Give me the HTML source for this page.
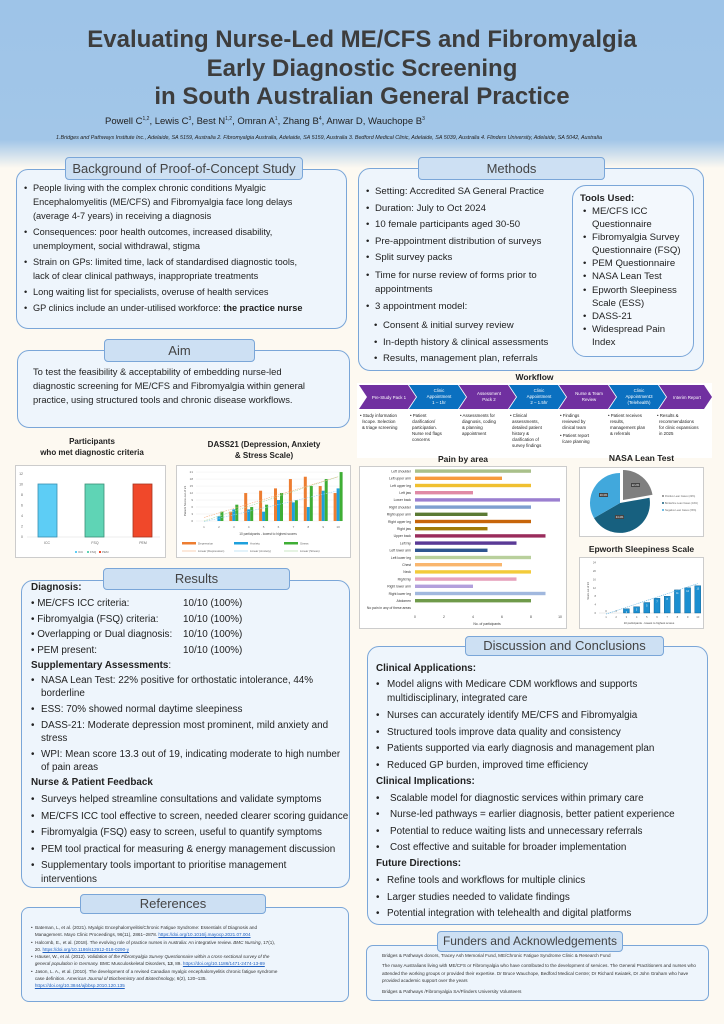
<!DOCTYPE html>
<html><head><meta charset="utf-8">
<style>
*{margin:0;padding:0;box-sizing:border-box}
body{width:724px;height:1024px;position:relative;overflow:hidden;font-family:"Liberation Sans",sans-serif;color:#222;
background:linear-gradient(to bottom,#9ec4e8 0px,#a2c6e8 140px,#fdf9f1 168px,#fdf9f1 100%);}
.a{position:absolute}
.box{position:absolute;border:1.5px solid #7aa6d8;border-radius:12px;background:#eef5fc}
.tab{position:absolute;border:1.5px solid #7aa6d8;border-radius:4px;background:#cde0f3;color:#444;text-align:center;font-size:13px;line-height:19px;white-space:nowrap}
.t{position:absolute;font-size:9.2px;line-height:14px;color:#222}
.b{position:absolute;font-size:9.9px;color:#222}
.ul li{list-style:none;position:relative;padding-left:9px}
.ul li:before{content:"•";position:absolute;left:0}
.sm{position:absolute;font-size:4.6px;line-height:7.3px;color:#333}
</style></head><body>

<div class="a" style="left:0;top:26px;width:724px;text-align:center;font-weight:bold;font-size:24px;line-height:28.5px;color:#3d3d3d">Evaluating Nurse-Led ME/CFS and Fibromyalgia<br>Early Diagnostic Screening<br>in South Australian General Practice</div>
<div class="a" style="left:105px;top:116px;font-size:9.5px;color:#222">Powell C<sup style="font-size:5px">1,2</sup>, Lewis C<sup style="font-size:5px">3</sup>, Best N<sup style="font-size:5px">1,2</sup>, Omran A<sup style="font-size:5px">1</sup>, Zhang B<sup style="font-size:5px">4</sup>, Anwar D, Wauchope B<sup style="font-size:5px">3</sup></div>
<div class="a" style="left:56px;top:135px;width:596px;font-size:5.4px;line-height:7.8px;font-style:italic;color:#222">1.Bridges and Pathways Institute Inc., Adelaide, SA 5159, Australia 2. Fibromyalgia Australia, Adelaide, SA 5159, Australia 3. Bedford Medical Clinic, Adelaide, SA 5039, Australia 4. Flinders University, Adelaide, SA 5042, Australia</div>

<!-- Background -->
<div class="box" style="left:16px;top:169px;width:331px;height:160px"></div>
<div class="tab" style="left:65px;top:157px;width:238px;height:23px;line-height:21px">Background of Proof-of-Concept Study</div>
<ul class="t ul" style="left:24px;top:181px;width:320px">
<li>People living with the complex chronic conditions Myalgic<br>Encephalomyelitis (ME/CFS) and Fibromyalgia face long delays<br>(average 4-7 years) in receiving a diagnosis</li>
<li style="margin-top:2px">Consequences: poor health outcomes, increased disability,<br>unemployment, social withdrawal, stigma</li>
<li style="margin-top:2px">Strain on GPs: limited time, lack of standardised diagnostic tools,<br>lack of clear clinical pathways, inappropriate treatments</li>
<li style="margin-top:2px">Long waiting list for specialists, overuse of health services</li>
<li style="margin-top:2px">GP clinics include an under-utilised workforce: <b>the practice nurse</b></li>
</ul>

<!-- Aim -->
<div class="box" style="left:17px;top:350px;width:333px;height:78px"></div>
<div class="tab" style="left:104px;top:339px;width:151px;height:23px;line-height:21px">Aim</div>
<div class="t" style="left:33px;top:365px;width:315px;line-height:14px;font-size:9.4px">To test the feasibility &amp; acceptability of embedding nurse-led<br>diagnostic screening for ME/CFS and Fibromyalgia within general<br>practice, using structured tools and chronic disease workflows.</div>

<!-- Methods -->
<div class="box" style="left:358px;top:168px;width:346px;height:203px"></div>
<div class="tab" style="left:418px;top:157px;width:187px;height:23px;line-height:21px">Methods</div>
<ul class="t ul" style="left:366px;top:184px;width:210px;line-height:16.5px;font-size:9.6px">
<li>Setting: Accredited SA General Practice</li>
<li>Duration: July to Oct 2024</li>
<li>10 female participants aged 30-50</li>
<li>Pre-appointment distribution of surveys</li>
<li>Split survey packs</li>
<li style="line-height:14px;padding-top:2px">Time for nurse review of forms prior to<br>appointments</li>
<li style="padding-top:2px">3 appointment model:</li>
<li style="margin-left:8px;padding-top:3px">Consent &amp; initial survey review</li>
<li style="margin-left:8px">In-depth history &amp; clinical assessments</li>
<li style="margin-left:8px">Results, management plan, referrals</li>
</ul>
<div class="a" style="left:572px;top:185px;width:122px;height:172px;border:1.5px solid #7aa6d8;border-radius:14px;background:#f3f8fd"></div>
<div class="t" style="left:580px;top:192px;font-weight:bold;line-height:13px;font-size:9.6px">Tools Used:</div>
<ul class="t ul" style="left:583px;top:205px;width:110px;line-height:13.1px;font-size:9.6px">
<li>ME/CFS ICC<br>Questionnaire</li>
<li>Fibromyalgia Survey<br>Questionnaire (FSQ)</li>
<li>PEM Questionnaire</li>
<li>NASA Lean Test</li>
<li>Epworth Sleepiness<br>Scale (ESS)</li>
<li>DASS-21</li>
<li>Widespread Pain<br>Index</li>
</ul>

<!-- Workflow -->
<div class="a" style="left:357px;top:383px;width:355px;height:75px;background:#fff"></div>
<div class="a" style="left:357px;top:372px;width:355px;text-align:center;font-weight:bold;font-size:8.5px">Workflow</div>
<svg class="a" style="left:357px;top:384px" width="356" height="28">
<g font-family="Liberation Sans" font-size="4.4" fill="#fff" text-anchor="middle">
<polygon points="2,1 51,1 59,13 51,25 2,25 10,13" fill="#7030a0"/>
<polygon points="52,1 101,1 109,13 101,25 52,25 60,13" fill="#0b70c0"/>
<polygon points="102,1 151,1 159,13 151,25 102,25 110,13" fill="#7030a0"/>
<polygon points="152,1 201,1 209,13 201,25 152,25 160,13" fill="#0b70c0"/>
<polygon points="202,1 251,1 259,13 251,25 202,25 210,13" fill="#7030a0"/>
<polygon points="252,1 301,1 309,13 301,25 252,25 260,13" fill="#0b70c0"/>
<polygon points="302,1 347,1 355,13 347,25 302,25 310,13" fill="#7030a0"/>
<text x="32" y="15">Pre-Study Pack 1</text>
<text x="82" y="8">Clinic</text><text x="82" y="14">Appointment</text><text x="82" y="20">1 – 1hr</text>
<text x="132" y="11">Assessment</text><text x="132" y="17">Pack 2</text>
<text x="182" y="8">Clinic</text><text x="182" y="14">Appointment</text><text x="182" y="20">2 – 1.5hr</text>
<text x="232" y="11">Nurse &amp; Team</text><text x="232" y="17">Review</text>
<text x="282" y="8">Clinic</text><text x="282" y="14">Appointment3</text><text x="282" y="20">(Telehealth)</text>
<text x="330" y="15">Interim Report</text>
</g></svg>
<svg class="a" style="left:357px;top:411px" width="356" height="46"><g font-family="Liberation Sans" font-size="4.4" fill="#222">
<text x="3" y="6">• Study information</text><text x="5" y="12">/scope. Selection</text><text x="5" y="18">&amp; triage screening</text>
<text x="53" y="6">• Patient</text><text x="55" y="12">clarification/</text><text x="55" y="18">participation.</text><text x="55" y="24">Nurse red flags</text><text x="55" y="30">concerns</text>
<text x="103" y="6">• Assessments for</text><text x="105" y="12">diagnosis, coding</text><text x="105" y="18">&amp; planning</text><text x="105" y="24">appointment</text>
<text x="153" y="6">• Clinical</text><text x="155" y="12">assessments,</text><text x="155" y="18">detailed patient</text><text x="155" y="24">history &amp;</text><text x="155" y="30">clarification of</text><text x="155" y="36">survey findings</text>
<text x="203" y="6">• Findings</text><text x="205" y="12">reviewed by</text><text x="205" y="18">clinical team</text><text x="203" y="26">• Patient report</text><text x="205" y="32">/care planning</text>
<text x="251" y="6">• Patient receives</text><text x="253" y="12">results,</text><text x="253" y="18">management plan</text><text x="253" y="24">&amp; referrals</text>
<text x="300" y="6">• Results &amp;</text><text x="302" y="12">recommendations</text><text x="302" y="18">for clinic expansions</text><text x="302" y="24">in 2025</text>
</g></svg>

<!-- Participants chart -->
<div class="a" style="left:15px;top:436px;width:154px;text-align:center;font-weight:bold;font-size:8px;line-height:11px;color:#222">Participants<br>who met diagnostic criteria</div>
<svg class="a" style="left:15px;top:465px" width="152" height="94">
<rect x="0.5" y="0.5" width="150" height="92" fill="#fff" stroke="#ccc"/>
<g font-family="Liberation Sans" font-size="3.5" fill="#666" text-anchor="end">
<text x="8" y="73">0</text><text x="8" y="62.5">2</text><text x="8" y="52">4</text><text x="8" y="41.5">6</text><text x="8" y="31">8</text><text x="8" y="20.5">10</text><text x="8" y="10">12</text></g>
<line x1="12" y1="72" x2="145" y2="72" stroke="#ddd" stroke-width=".5"/>
<rect x="23" y="19" width="19" height="53" fill="#5dcdf5" stroke="#3a8fb0" stroke-width=".8"/>
<rect x="70" y="19" width="19" height="53" fill="#5fd4b5" stroke="#3a8f78" stroke-width=".8"/>
<rect x="118" y="19" width="19" height="53" fill="#f0482a" stroke="#a83520" stroke-width=".8"/>
<g font-family="Liberation Sans" font-size="3.5" fill="#666" text-anchor="middle"><text x="32" y="79">ICC</text><text x="80" y="79">FSQ</text><text x="128" y="79">PEM</text></g>
<rect x="60" y="86" width="2" height="2" fill="#5dcdf5"/><rect x="72" y="86" width="2" height="2" fill="#5fd4b5"/><rect x="84" y="86" width="2" height="2" fill="#f0482a"/>
<g font-family="Liberation Sans" font-size="3" fill="#666"><text x="63" y="88">ICC</text><text x="75" y="88">FSQ</text><text x="87" y="88">PEM</text></g>
</svg>

<!-- DASS chart -->
<div class="a" style="left:176px;top:439px;width:176px;text-align:center;font-weight:bold;font-size:8px;line-height:11px;color:#222">DASS21 (Depression, Anxiety<br>&amp; Stress Scale)</div>
<svg class="a" style="left:176px;top:465px" width="176" height="94" font-family="Liberation Sans">
<rect x="0.5" y="0.5" width="174" height="92" fill="#fff" stroke="#ccc"/>
<g id="dass"></g>
</svg>

<!-- Pain chart -->
<div class="a" style="left:359px;top:454px;width:208px;text-align:center;font-weight:bold;font-size:8.5px">Pain by area</div>
<svg class="a" style="left:359px;top:466px" width="209" height="164" font-family="Liberation Sans">
<rect x="0.5" y="0.5" width="207" height="162" fill="#fff" stroke="#ccc"/>
<g id="pain"></g>
</svg>

<!-- NASA -->
<div class="a" style="left:579px;top:453px;width:125px;text-align:center;font-weight:bold;font-size:8.5px">NASA Lean Test</div>
<svg class="a" style="left:579px;top:467px" width="126" height="71" font-family="Liberation Sans">
<rect x="0.5" y="0.5" width="124" height="69" fill="#fff" stroke="#ccc"/>
<path d="M44,33 L44,3 A30,30 0 0 1 73.5,27.8 Z" fill="#7f7f7f"/>
<path d="M41,36 L70.5,30.8 A30,30 0 0 1 15,51 Z" fill="#17607f"/>
<path d="M41,36 L15,51 A30,30 0 0 1 41,6 Z" fill="#41a8dc"/>
<rect x="52" y="16" width="9" height="4" fill="#444"/><text x="56.5" y="19.2" font-size="2.6" fill="#fff" text-anchor="middle">22.2%</text>
<rect x="36" y="48" width="9" height="4" fill="#444"/><text x="40.5" y="51.2" font-size="2.6" fill="#fff" text-anchor="middle">44.4%</text>
<rect x="20" y="26" width="9" height="4" fill="#444"/><text x="24.5" y="29.2" font-size="2.6" fill="#fff" text-anchor="middle">33.3%</text>
<g font-size="2.5" fill="#666"><circle cx="84" cy="29" r="1" fill="#7f7f7f"/><text x="86" y="30">Positive Lean Cases (22%)</text>
<circle cx="84" cy="36" r="1" fill="#17607f"/><text x="86" y="37">Borderline Lean Cases (44%)</text>
<circle cx="84" cy="43" r="1" fill="#41a8dc"/><text x="86" y="44">Negative Lean Cases (33%)</text></g>
</svg>

<!-- Epworth -->
<div class="a" style="left:579px;top:544px;width:125px;text-align:center;font-weight:bold;font-size:8.5px">Epworth Sleepiness Scale</div>
<svg class="a" style="left:579px;top:557px" width="126" height="73" font-family="Liberation Sans">
<rect x="0.5" y="0.5" width="124" height="71" fill="#fff" stroke="#ccc"/>
<g id="ess"></g>
</svg>

<!-- Results -->
<div class="box" style="left:21px;top:580px;width:329px;height:308px"></div>
<div class="tab" style="left:103px;top:568px;width:187px;height:22px;line-height:20px">Results</div>
<div class="b" style="left:31px;top:581px;font-weight:bold;line-height:13px">Diagnosis:</div>
<div class="b" style="left:31px;top:596px;line-height:15.6px">
• ME/CFS ICC criteria:<br>• Fibromyalgia (FSQ) criteria:<br>• Overlapping or Dual diagnosis:<br>• PEM present:</div>
<div class="b" style="left:183px;top:596px;line-height:15.6px">10/10 (100%)<br>10/10 (100%)<br>10/10 (100%)<br>10/10 (100%)</div>
<div class="b" style="left:31px;top:659px;font-weight:bold;line-height:13px">Supplementary Assessments<span style="font-weight:normal">:</span></div>
<ul class="t ul" style="left:31px;top:674px;width:322px;line-height:13px;font-size:9.9px">
<li style="padding-left:10px">NASA Lean Test: 22% positive for orthostatic intolerance, 44%<br>borderline</li>
<li style="padding-left:10px;margin-top:3px">ESS: 70% showed normal daytime sleepiness</li>
<li style="padding-left:10px;margin-top:3px">DASS-21: Moderate depression most prominent, mild anxiety and<br>stress</li>
<li style="padding-left:10px;margin-top:3px;white-space:nowrap">WPI: Mean score 13.3 out of 19, indicating moderate to high number<br>of pain areas</li>
</ul>
<div class="b" style="left:31px;top:776px;font-weight:bold;line-height:13px">Nurse &amp; Patient Feedback</div>
<ul class="t ul" style="left:31px;top:792px;width:322px;line-height:16.5px;font-size:9.9px;white-space:nowrap">
<li style="padding-left:10px">Surveys helped streamline consultations and validate symptoms</li>
<li style="padding-left:10px">ME/CFS ICC tool effective to screen, needed clearer scoring guidance</li>
<li style="padding-left:10px">Fibromyalgia (FSQ) easy to screen, useful to quantify symptoms</li>
<li style="padding-left:10px">PEM tool practical for measuring &amp; energy management discussion</li>
<li style="padding-left:10px;line-height:14px;padding-top:1px">Supplementary tools important to prioritise management<br>interventions</li>
</ul>

<!-- References -->
<div class="box" style="left:21px;top:907px;width:328px;height:95px;border-radius:8px"></div>
<div class="tab" style="left:80px;top:894px;width:186px;height:20px;line-height:18px">References</div>
<div class="sm" style="left:31px;top:924px;width:310px">
• &nbsp;Bateman, L, et al. (2021). Myalgic Encephalomyelitis/Chronic Fatigue Syndrome: Essentials of Diagnosis and<br>&nbsp;&nbsp;&nbsp;Management. Mayo Clinic Proceedings, 96(11), 2861–2878. <span style="color:#1f5fbf;text-decoration:underline">https://doi.org/10.1016/j.mayocp.2021.07.004</span><br>
• &nbsp;Halcomb, E., et al. (2018). The evolving role of practice nurses in Australia: An integrative review. <i>BMC Nursing</i>, 17(1),<br>&nbsp;&nbsp;&nbsp;20. <span style="color:#1f5fbf;text-decoration:underline">https://doi.org/10.1186/s12912-018-0290-y</span><br>
• &nbsp;Häuser, W., et al. (2012). <i>Validation of the Fibromyalgia Survey Questionnaire within a cross-sectional survey of the</i><br>&nbsp;&nbsp;&nbsp;<i>general population in Germany.</i> BMC Musculoskeletal Disorders, <b>13</b>, 89. <span style="color:#1f5fbf;text-decoration:underline">https://doi.org/10.1186/1471-2474-13-89</span><br>
• &nbsp;Jason, L. A., et al. (2010). The development of a revised Canadian myalgic encephalomyelitis chronic fatigue syndrome<br>&nbsp;&nbsp;&nbsp;case definition. <i>American Journal of Biochemistry and Biotechnology</i>, 6(2), 120–135.<br>&nbsp;&nbsp;&nbsp;<span style="color:#1f5fbf;text-decoration:underline">https://doi.org/10.3844/ajbbsp.2010.120.135</span></div>

<!-- Discussion -->
<div class="box" style="left:367px;top:646px;width:341px;height:279px"></div>
<div class="tab" style="left:465px;top:636px;width:199px;height:20px;line-height:18px">Discussion and Conclusions</div>
<div class="b" style="left:376px;top:662px;font-weight:bold;line-height:13px">Clinical Applications:</div>
<ul class="t ul" style="left:376px;top:678px;width:330px;line-height:16.5px;font-size:9.9px">
<li style="padding-left:11px;line-height:14px;margin-bottom:2px">Model aligns with Medicare CDM workflows and supports<br>multidisciplinary, integrated care</li>
<li style="padding-left:11px">Nurses can accurately identify ME/CFS and Fibromyalgia</li>
<li style="padding-left:11px">Structured tools improve data quality and consistency</li>
<li style="padding-left:11px">Patients supported via early diagnosis and management plan</li>
<li style="padding-left:11px">Reduced GP burden, improved time efficiency</li>
</ul>
<div class="b" style="left:376px;top:775px;font-weight:bold;line-height:13px">Clinical Implications:</div>
<ul class="t ul" style="left:376px;top:791px;width:330px;line-height:16.4px;font-size:9.9px;white-space:nowrap">
<li style="padding-left:14px">Scalable model for diagnostic services within primary care</li>
<li style="padding-left:14px">Nurse-led pathways = earlier diagnosis, better patient experience</li>
<li style="padding-left:14px">Potential to reduce waiting lists and unnecessary referrals</li>
<li style="padding-left:14px">Cost effective and suitable for broader implementation</li>
</ul>
<div class="b" style="left:376px;top:857px;font-weight:bold;line-height:13px">Future Directions:</div>
<ul class="t ul" style="left:376px;top:873px;width:330px;line-height:16.5px;font-size:9.9px;white-space:nowrap">
<li style="padding-left:11px">Refine tools and workflows for multiple clinics</li>
<li style="padding-left:11px">Larger studies needed to validate findings</li>
<li style="padding-left:11px">Potential integration with telehealth and digital platforms</li>
</ul>

<!-- Funders -->
<div class="box" style="left:366px;top:945px;width:343px;height:56px;border-radius:7px"></div>
<div class="tab" style="left:437px;top:931px;width:186px;height:21px;line-height:19px;font-size:12px">Funders and Acknowledgements</div>
<div class="sm" style="left:382px;top:952px;width:320px;line-height:7.7px">Bridges &amp; Pathways donors, Tracey Ash Memorial Fund, ME/Chronic Fatigue Syndrome Clinic &amp; Research Fund</div>
<div class="sm" style="left:382px;top:962px;width:320px;line-height:7.7px">The many Australians living with ME/CFS or Fibromyalgia who have contributed to the development of services. The General Practitioners and nurses who attended the working groups or provided their expertise. Dr Bruce Wauchope, Bedford Medical Centre; Dr Richard Kwiatek, Dr John Graham who have provided academic support over the years</div>
<div class="sm" style="left:382px;top:988px;width:320px;line-height:7.7px">Bridges &amp; Pathways /Fibromyalgia SA/Flinders University Volunteers</div>

<script>
var NS="http://www.w3.org/2000/svg";
function el(p,t,a,txt){var e=document.createElementNS(NS,t);for(var k in a)e.setAttribute(k,a[k]);if(txt!=null)e.textContent=txt;p.appendChild(e);return e;}
(function(){var g=document.getElementById('dass');var x0=28,dx=14.9,y0=56,s=2.33;
var D=[0,0,4,12,13,14,18,19,15,12],A=[0,2,5,5,4,9,8,6,13,14],S=[0,4,7,6,7,12,9,15,18,21];
for(var v=0;v<=21;v+=3){var y=y0-v*s;el(g,'line',{x1:20,x2:166,y1:y,y2:y,stroke:'#e8e8e8','stroke-width':.4});el(g,'text',{x:17,y:y+1,'font-size':3,fill:'#666','text-anchor':'end'},v);}
for(var i=0;i<10;i++){var cx=x0+i*dx;
el(g,'rect',{x:cx-4.5,y:y0-D[i]*s,width:3,height:D[i]*s,fill:'#ed7d31'});
el(g,'rect',{x:cx-1.5,y:y0-A[i]*s,width:3,height:A[i]*s,fill:'#1ea0dc'});
el(g,'rect',{x:cx+1.5,y:y0-S[i]*s,width:3,height:S[i]*s,fill:'#3fae35'});
el(g,'text',{x:cx,y:63,'font-size':3,fill:'#666','text-anchor':'middle'},i+1);}
el(g,'line',{x1:x0,y1:y0-1.5*s,x2:x0+9*dx,y2:y0-19*s,stroke:'#f4b183','stroke-width':.6,'stroke-dasharray':'1.5,1'});
el(g,'line',{x1:x0,y1:y0+0.3*s,x2:x0+9*dx,y2:y0-13*s,stroke:'#9dd3f0','stroke-width':.6,'stroke-dasharray':'1.5,1'});
el(g,'line',{x1:x0,y1:y0,x2:x0+9*dx,y2:y0-19*s,stroke:'#a9d89f','stroke-width':.6,'stroke-dasharray':'1.5,1'});
el(g,'text',{x:92,y:70,'font-size':3.2,fill:'#444','text-anchor':'middle'},'10 participants - lowest to highest scores');
el(g,'text',{x:0,y:0,'font-size':3,fill:'#444','text-anchor':'middle',transform:'translate(10,36) rotate(-90)'},'Patient Score out of 21');
[['#ed7d31','Depression',6],['#1ea0dc','Anxiety',58],['#3fae35','Stress',108]].forEach(function(l){el(g,'rect',{x:l[2],y:77,width:14,height:2.5,fill:l[0]});el(g,'text',{x:l[2]+16,y:79.5,'font-size':3,fill:'#666'},l[1]);});
[['#f4b183','Linear (Depression)',6],['#9dd3f0','Linear (Anxiety)',58],['#a9d89f','Linear (Stress)',108]].forEach(function(l){el(g,'line',{x1:l[2],x2:l[2]+14,y1:86,y2:86,stroke:l[0],'stroke-width':.6});el(g,'text',{x:l[2]+16,y:87,'font-size':3,fill:'#666'},l[1]);});
})();
(function(){var g=document.getElementById('pain');
var d=[['Left shoulder',8,'#a9c08a'],['Left upper arm',6,'#f79a3c'],['Left upper leg',8,'#f0c030'],['Left jaw',4,'#e08aa6'],['Lower back',10,'#9b7fd0'],['Right shoulder',8,'#7e9fd0'],['Right upper arm',5,'#5b7a34'],['Right upper leg',8,'#c7650a'],['Right jaw',5,'#a07a08'],['Upper back',9,'#9a2c5c'],['Left hip',7,'#5a3a96'],['Left lower arm',5,'#2e5690'],['Left lower leg',8,'#b9d09c'],['Chest',6,'#f9b66e'],['Neck',8,'#f3cb3a'],['Right hip',7,'#e6a2bc'],['Right lower arm',4,'#b2a0dc'],['Right lower leg',9,'#a1b8de'],['Abdomen',8,'#6f9a4a'],['No pain in any of these areas',0,'#fff']];
var x0=56,sc=14.5;
for(var i=0;i<d.length;i++){var y=5+i*7.2;
el(g,'text',{x:x0-4,y:y+1.4,'font-size':3.4,fill:'#333','text-anchor':'end'},d[i][0]);
if(d[i][1])el(g,'rect',{x:x0,y:y-1.6,width:d[i][1]*sc,height:3.4,fill:d[i][2]});}
for(var v=0;v<=10;v+=2)el(g,'text',{x:x0+v*sc,y:152,'font-size':3.4,fill:'#444','text-anchor':'middle'},v);
el(g,'text',{x:x0+72,y:159,'font-size':3.4,fill:'#333','text-anchor':'middle'},'No. of participants');
})();
(function(){var g=document.getElementById('ess');var x0=27,dx=10.2,y0=56,s=2.1;
var v=[0,0,2,3,5,7,8,11,12,13];
for(var t=0;t<=24;t+=4){var y=y0-t*s;el(g,'text',{x:17,y:y+1,'font-size':2.8,fill:'#666','text-anchor':'end'},t);}
el(g,'line',{x1:20,x2:122,y1:y0,y2:y0,stroke:'#ccc','stroke-width':.4});
for(var i=0;i<10;i++){var cx=x0+i*dx;
if(v[i])el(g,'rect',{x:cx-3,y:y0-v[i]*s,width:6,height:v[i]*s,fill:'#1c8fd0',stroke:'#0b5a8a','stroke-width':.4});
el(g,'text',{x:cx,y:y0-v[i]*s-(v[i]?-4:1),'font-size':2.4,fill:v[i]?'#fff':'#444','text-anchor':'middle'},v[i]);
el(g,'text',{x:cx,y:61,'font-size':2.8,fill:'#666','text-anchor':'middle'},i+1);}
el(g,'line',{x1:x0,y1:y0+0.5*s,x2:x0+9*dx,y2:y0-14*s,stroke:'#5bb0e0','stroke-width':.6,'stroke-dasharray':'1.2,.8'});
el(g,'text',{x:70,y:67,'font-size':2.8,fill:'#444','text-anchor':'middle'},'10 participants - lowest to highest scores');
el(g,'text',{x:0,y:0,'font-size':2.6,fill:'#444','text-anchor':'middle',transform:'translate(10,34) rotate(-90)'},'Score out of 24');
})();
</script>
</body></html>
